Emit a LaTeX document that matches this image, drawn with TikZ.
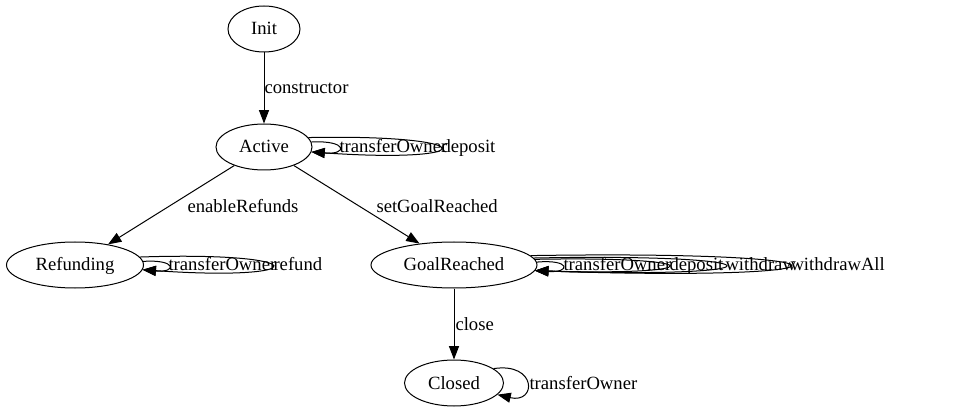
\documentclass[tikz,border=0pt]{standalone}
\usepackage{fontspec}
\setmainfont{Liberation Serif}
\usetikzlibrary{shapes.geometric,arrows.meta}
\tikzset{
	state/.style={draw, ellipse, inner sep=0, minimum height=34.5pt, text height=11pt, text depth=2pt},
	trans/.style={-{Triangle[length=10pt,width=7.5pt]}},
	lab/.style={inner sep=0, anchor=west, text height=11pt, text depth=2pt}
}
\begin{document}
\begin{tikzpicture}[x=0.75pt, y=-0.75pt, line width=0.75pt, font=\fontsize{14}{16}\selectfont]
		\useasboundingbox (0,0) rectangle (963,413);
		\node [state, minimum width=54pt] at (264,29) (init) {Init};
		\node [state, minimum width=72pt] at (264,147) (act) {Active};
		\node [state, minimum width=102.75pt] at (75,265) (ref) {Refunding};
		\node [state, minimum width=124.5pt] at (454,265) (goal) {GoalReached};
		\node [state, minimum width=74.25pt] at (454,383) (clo) {Closed};

		\draw [trans] (init) -- (act);
		\draw [trans] (act) -- (ref);
		\draw [trans] (act) -- (goal);
		\draw [trans] (goal) -- (clo);
		\node [lab] at (264,88) (l_cons) {constructor};
		\node [lab] at (187,207) (l_enab) {enableRefunds};
		\node [lab] at (376,207) (l_setg) {setGoalReached};
		\node [lab] at (455,324) (l_clos) {close};

		% self loops
		\foreach \a/\x/\t/\b in {6/348/140/155, 12/484/134/164}
			\draw [trans] (act.\a) .. controls (\x,\t) and (\x,\b) .. (act.-6);
		\foreach \x/\l [count=\i] in {339/transferOwner, 441/deposit}
			\node [lab] at (\x,147) (l_act\i) {\l};

		\foreach \a/\x/\t/\b in {3.5/177/259/273, 7/316/251/282}
			\draw [trans] (ref.\a) .. controls (\x,\t) and (\x,\b) .. (ref.-4.5);
		\foreach \x/\l [count=\i] in {168/transferOwner, 273/refund}
			\node [lab] at (\x,265) (l_ref\i) {\l};

		\foreach \a/\x/\t/\b in {2.5/571/259/273, 4/713/256/276, 5.5/789/253/279, 7/876/250/282}
			\draw [trans] (goal.\a) .. controls (\x,\t) and (\x,\b) .. (goal.-4);
		\foreach \x/\l [count=\i] in {563/transferOwner, 669/deposit, 725/withdraw, 790/withdrawAll}
			\node [lab] at (\x,265) (l_goal\i) {\l};

		\draw [trans] (clo.20) .. controls (537,362) and (537,404) .. (clo.-15);
		\node [lab] at (529,383) (l_clo1) {transferOwner};
	\end{tikzpicture}
\end{document}
